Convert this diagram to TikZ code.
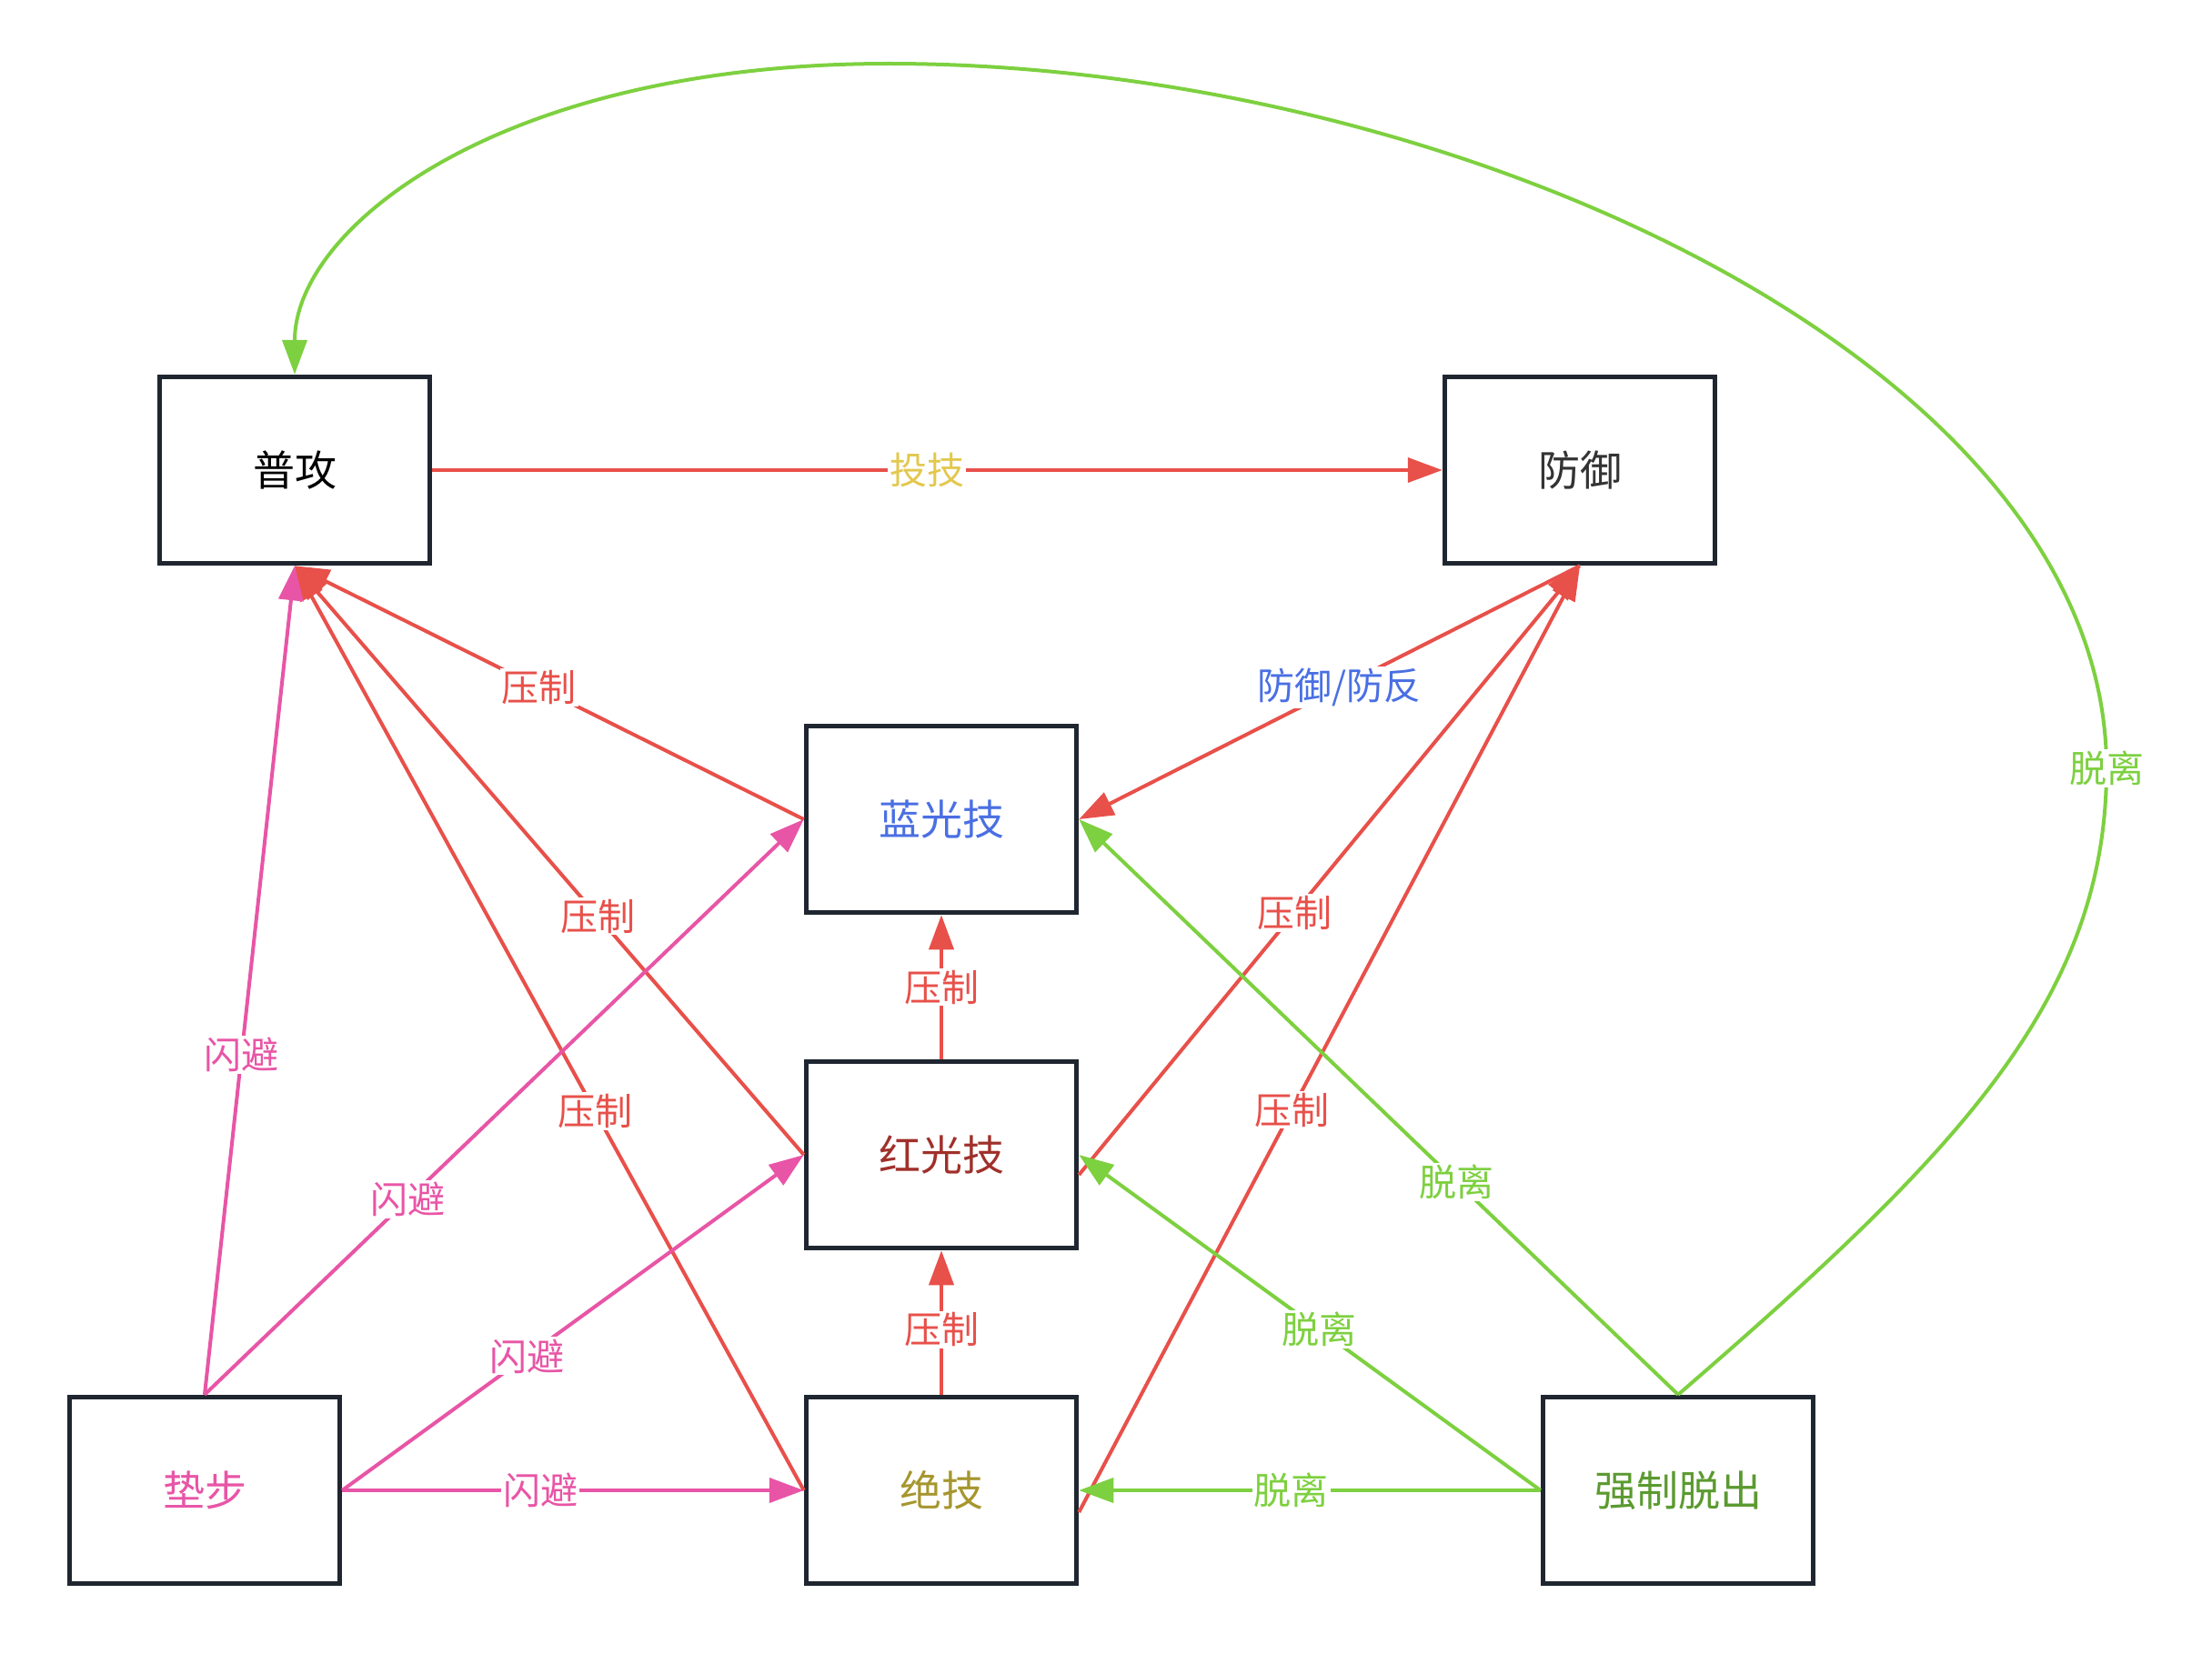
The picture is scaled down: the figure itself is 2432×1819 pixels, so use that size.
\documentclass[tikz,border=0pt]{standalone}
\usepackage{fontspec}
\setmainfont{Noto Sans CJK SC}
\usetikzlibrary{arrows.meta}
\definecolor{cred}{HTML}{E8504A}
\definecolor{cgreen}{HTML}{7DD03F}
\definecolor{cpink}{HTML}{E855A6}
\definecolor{cborder}{HTML}{1F2630}
\definecolor{cblue}{HTML}{4A6FE3}
\definecolor{cyellow}{HTML}{E3C84E}
\definecolor{tdark}{HTML}{333333}
\definecolor{tred}{HTML}{A0302A}
\definecolor{tolive}{HTML}{A6962E}
\definecolor{tgreen}{HTML}{5B9A30}
\begin{document}
\begin{tikzpicture}[x=1pt,y=-1pt,
  box/.style={draw=cborder, line width=5.5pt, fill=white, minimum width=297pt, minimum height=205pt, inner sep=0pt, font=\fontsize{46}{52}\selectfont},
  lbl/.style={fill=white, inner sep=2pt, font=\fontsize{41}{46}\selectfont},
  edge/.style={line width=4pt, -{Triangle[length=38pt,width=27pt]}},
]
\useasboundingbox (0,0) rectangle (2432,1819);
\fill[white] (0,0) rectangle (2432,1819);

\node[box,text=black] (pg) at (324,517) {普攻};
\node[box,text=tdark] (fy) at (1737,517) {防御};
\node[box,text=cblue] (lg) at (1035,901) {蓝光技};
\node[box,text=tred] (hg) at (1035,1270) {红光技};
\node[box,text=tolive] (jj) at (1035,1639) {绝技};
\node[box,text=cpink] (db) at (225,1639) {垫步};
\node[box,text=tgreen] (qz) at (1845,1639) {强制脱出};

% red edges
\draw[edge,cred] (pg.east) -- node[lbl,text=cyellow,pos=.49]{投技} (fy.west);
\draw[edge,cred] (lg.west) -- node[lbl,text=cred,pos=.52]{压制} (pg.south);
\draw[edge,cred] (fy.south) -- node[lbl,text=cblue,pos=.48]{防御/防反} (lg.east);
\draw[edge,cred] (hg.west) -- node[lbl,text=cred,pos=.405]{压制} (pg.south);
\draw[edge,cred] (jj.west) -- node[lbl,text=cred,pos=.41]{压制} (pg.south);
\draw[edge,cred] ([yshift=-22pt]hg.east) -- node[lbl,text=cred,pos=.43]{压制} (fy.south);
\draw[edge,cred] ([yshift=-24pt]jj.east) -- node[lbl,text=cred,pos=.425]{压制} (fy.south);
\draw[edge,cred] (hg.north) -- node[lbl,text=cred,pos=.5]{压制} (lg.south);
\draw[edge,cred] (jj.north) -- node[lbl,text=cred,pos=.45]{压制} (hg.south);

% pink edges
\draw[edge,cpink] (db.north) -- node[lbl,text=cpink,pos=.41]{闪避} (pg.south);
\draw[edge,cpink] (db.north) -- node[lbl,text=cpink,pos=.34]{闪避} (lg.west);
\draw[edge,cpink] (db.east) -- node[lbl,text=cpink,pos=.4]{闪避} (hg.west);
\draw[edge,cpink] (db.east) -- node[lbl,text=cpink,pos=.43]{闪避} (jj.west);

% green edges
\draw[edge,cgreen] (qz.west) -- node[lbl,text=cgreen,pos=.54]{脱离} (jj.east);
\draw[edge,cgreen] (qz.west) -- node[lbl,text=cgreen,pos=.48]{脱离} (hg.east);
\draw[edge,cgreen] (qz.north) -- node[lbl,text=cgreen,pos=.37]{脱离} (lg.east);
\draw[edge,cgreen] (qz.north) .. controls (2150,1270) and (2316,1100) .. (2316,845)
  node[lbl,text=cgreen]{脱离}
  .. controls (2316,400) and (1600,70) .. (977,70)
  .. controls (550,70) and (324,250) .. (pg.north);
\end{tikzpicture}
\end{document}
